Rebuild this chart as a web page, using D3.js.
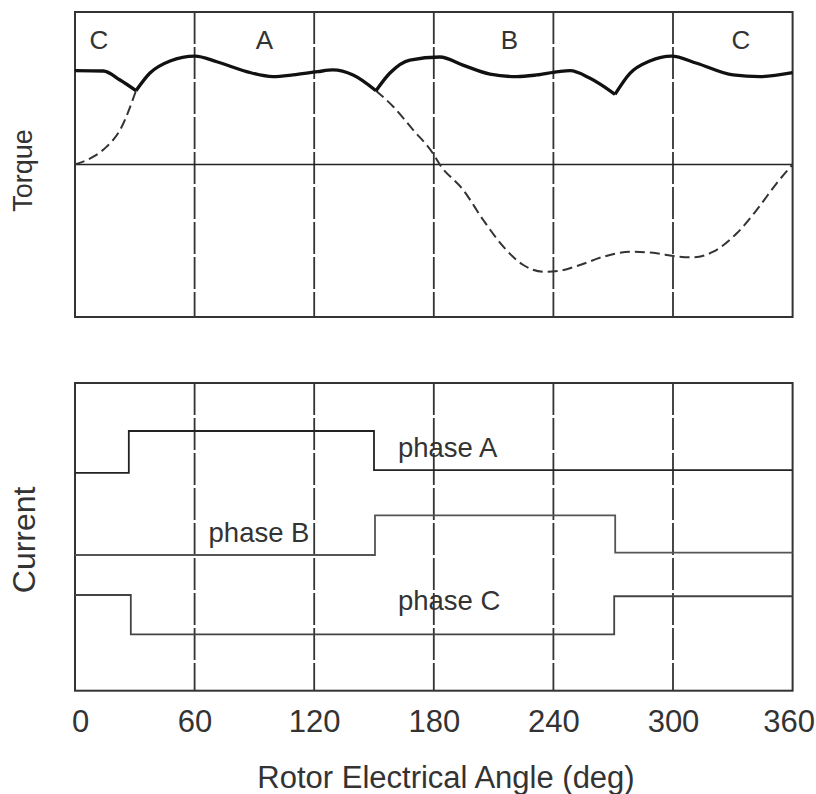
<!DOCTYPE html>
<html>
<head>
<meta charset="utf-8">
<script src="https://cdn.jsdelivr.net/npm/d3@7"></script>
<style>
  html, body { margin: 0; padding: 0; background: #fff; }
  svg { display: block; }
  text { font-family: "Liberation Sans", Arial, sans-serif; fill: #333; }
</style>
</head>
<body>
<svg id="chart" width="816" height="794"></svg>
<script>
// ---------- data ----------
const angleTicks = [0, 60, 120, 180, 240, 300, 360];
const gridAngles = [60, 120, 180, 240, 300];

const sectorLabels = ["C", "A", "B", "C"];
const sectorAngles = [12, 95, 218, 334];

// resultant torque (solid, thick)
const torqueAngle = [0, 14.2, 22.6, 30.6, 37.6, 47.7, 60.2, 71.1, 86.1, 99.3, 109.4, 121.8, 129.4, 139.5,
  151, 158, 168, 183.1, 194.6, 208.2, 221.6, 231.6, 242.5, 248.3, 258.4, 270.9, 278.4, 288.4, 299.3,
  311.9, 330.1, 343.6, 360];
const torqueValue = [0.615, 0.613, 0.554, 0.484, 0.600, 0.679, 0.711, 0.674, 0.609, 0.576, 0.587, 0.609, 0.620, 0.587,
  0.484, 0.600, 0.685, 0.705, 0.652, 0.593, 0.576, 0.587, 0.609, 0.615, 0.565, 0.460, 0.598, 0.679, 0.711,
  0.664, 0.587, 0.576, 0.602];
const cuspAngles = [30.6, 151, 270.9];

// single-phase torque (dashed)
const dashRiseAngle = [0, 9.2, 15.9, 22.6, 30.6];
const dashRiseValue = [0, 0.051, 0.117, 0.226, 0.484];
const dashFallAngle = [151, 159.7, 169.7, 179.7, 183, 194.8, 204.8, 214.9, 224.9, 234.9, 242.5, 253.3, 265,
  278.4, 291.8, 300.2, 310.2, 320.2, 332, 342, 352, 360];
const dashFallValue = [0.484, 0.379, 0.226, 0.07, 0.0, -0.167, -0.364, -0.539, -0.659, -0.703, -0.698, -0.659, -0.605,
  -0.572, -0.582, -0.600, -0.609, -0.572, -0.451, -0.298, -0.123, 0];

// phase currents (step functions)
const phaseNames = ["phase A", "phase B", "phase C"];
const phaseAAngle = [0, 27, 150, 360];
const phaseALevel = [0.708, 0.844, 0.717, 0.717];
const phaseBAngle = [0, 150.5, 271, 360];
const phaseBLevel = [0.441, 0.570, 0.449, 0.449];
const phaseCAngle = [0, 28, 270.5, 360];
const phaseCLevel = [0.311, 0.183, 0.307, 0.307];
// label anchors (angle, level)
const phaseLabelAngle = [162, 67, 162];
const phaseLabelLevel = [0.759, 0.484, 0.2636];

// ---------- layout ----------
const svg = d3.select("#chart");
const left = 75, right = 792.6;
const top1 = 12, bot1 = 317;
const top2 = 383, bot2 = 690.7;

const x = d3.scaleLinear().domain([0, 360]).range([left, right]);
const yT = d3.scaleLinear().domain([-1, 1]).range([bot1, top1]);
const yC = d3.scaleLinear().domain([0, 1]).range([bot2, top2]);

const zip = (a, b) => a.map((v, i) => [v, b[i]]);

// ---------- grid ----------
[[top1, bot1], [top2, bot2]].forEach(([t, b]) => {
  svg.append("g").selectAll("line").data(gridAngles).join("line")
    .attr("x1", d => x(d)).attr("x2", d => x(d))
    .attr("y1", t).attr("y2", b)
    .attr("stroke", "#333").attr("stroke-width", 1.8)
    .attr("stroke-dasharray", "32,3");
});

// zero line of torque panel
svg.append("line")
  .attr("x1", x(0)).attr("x2", x(360))
  .attr("y1", yT(0)).attr("y2", yT(0))
  .attr("stroke", "#222").attr("stroke-width", 1.6);

// frames
[[top1, bot1], [top2, bot2]].forEach(([t, b]) => {
  svg.append("rect")
    .attr("x", left).attr("y", t)
    .attr("width", right - left).attr("height", b - t)
    .attr("fill", "none").attr("stroke", "#333").attr("stroke-width", 2);
});

// ---------- torque curves ----------
const torqueLine = d3.line().x(d => x(d[0])).y(d => yT(d[1])).curve(d3.curveMonotoneX);

// dashed single-phase torque
[zip(dashRiseAngle, dashRiseValue), zip(dashFallAngle, dashFallValue)].forEach(seg => {
  svg.append("path").datum(seg)
    .attr("d", torqueLine)
    .attr("fill", "none").attr("stroke", "#333")
    .attr("stroke-width", 2).attr("stroke-dasharray", "10,5");
});

// solid resultant torque, split at commutation cusps
const torquePts = zip(torqueAngle, torqueValue);
const segments = [];
let cur = [];
torquePts.forEach(p => {
  cur.push(p);
  if (cuspAngles.includes(p[0])) { segments.push(cur); cur = [p]; }
});
if (cur.length > 1) segments.push(cur);
svg.append("g").selectAll("path").data(segments).join("path")
  .attr("d", torqueLine)
  .attr("fill", "none").attr("stroke", "#111")
  .attr("stroke-width", 3.3).attr("stroke-linejoin", "miter");

// sector letters
svg.append("g").selectAll("text").data(sectorLabels).join("text")
  .attr("x", (d, i) => x(sectorAngles[i]))
  .attr("y", yT(0.757))
  .attr("text-anchor", "middle")
  .attr("font-size", 26)
  .text(d => d);

// ---------- currents ----------
const stepLine = d3.line().x(d => x(d[0])).y(d => yC(d[1])).curve(d3.curveStepAfter);
const phases = [
  zip(phaseAAngle, phaseALevel),
  zip(phaseBAngle, phaseBLevel),
  zip(phaseCAngle, phaseCLevel)
];
const phaseColors = ["#222", "#555", "#444"];
svg.append("g").selectAll("path").data(phases).join("path")
  .attr("d", stepLine)
  .attr("fill", "none")
  .attr("stroke", (d, i) => phaseColors[i])
  .attr("stroke-width", 1.8);

svg.append("g").selectAll("text").data(phaseNames).join("text")
  .attr("x", (d, i) => x(phaseLabelAngle[i]))
  .attr("y", (d, i) => yC(phaseLabelLevel[i]))
  .attr("font-size", 27.5)
  .text(d => d);

// ---------- x axis ----------
const xAxis = d3.axisBottom(x).tickValues(angleTicks).tickSize(0).tickPadding(19).tickFormat(d3.format("d"));
const ax = svg.append("g").attr("transform", `translate(0,${bot2})`).call(xAxis);
ax.select(".domain").remove();
ax.selectAll("text")
  .attr("font-size", 31)
  .attr("font-family", "\"Liberation Sans\", Arial, sans-serif")
  .attr("fill", "#333")
  .attr("dx", d => d === 0 ? 5 : (d === 360 ? -4 : 0));

svg.append("text")
  .attr("x", 446).attr("y", 788)
  .attr("text-anchor", "middle")
  .attr("font-size", 31)
  .text("Rotor Electrical Angle (deg)");

// ---------- y labels ----------
svg.append("text")
  .attr("transform", `translate(32,${(top1 + bot1) / 2 + 6}) rotate(-90)`)
  .attr("text-anchor", "middle")
  .attr("font-size", 27)
  .text("Torque");

svg.append("text")
  .attr("transform", `translate(35,${(top2 + bot2) / 2 + 3}) rotate(-90)`)
  .attr("text-anchor", "middle")
  .attr("font-size", 32)
  .text("Current");
</script>
</body>
</html>
